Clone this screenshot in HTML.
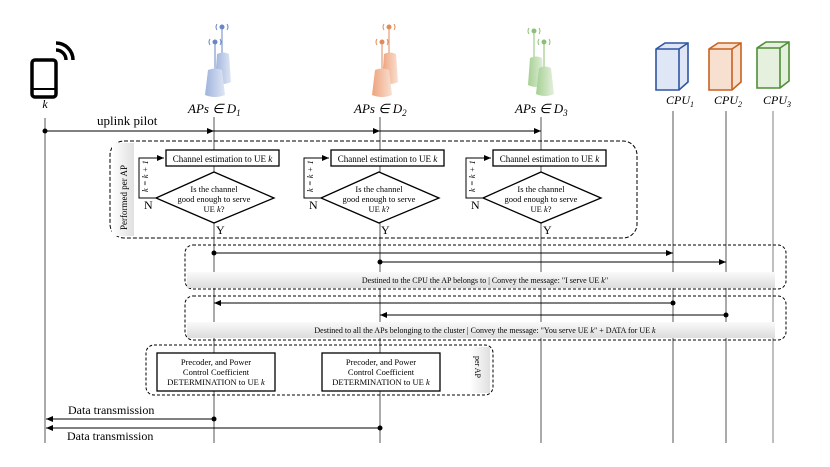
<!DOCTYPE html>
<html><head><meta charset="utf-8"><style>
body{margin:0;background:#fff}
svg{display:block}
text{font-family:"Liberation Serif",serif}
</style></head><body>
<svg width="830" height="467" viewBox="0 0 830 467" xmlns="http://www.w3.org/2000/svg">
<defs>
<linearGradient id="gb" x1="0" x2="1"><stop offset="0" stop-color="#9fb3dc"/><stop offset="1" stop-color="#dfe6f5"/></linearGradient>
<linearGradient id="go" x1="0" x2="1"><stop offset="0" stop-color="#eea37c"/><stop offset="1" stop-color="#f9e0d2"/></linearGradient>
<linearGradient id="gg" x1="0" x2="1"><stop offset="0" stop-color="#a6cf93"/><stop offset="1" stop-color="#e3f0dc"/></linearGradient>
<linearGradient id="band" x1="0" y1="0" x2="0" y2="1"><stop offset="0" stop-color="#fafafa"/><stop offset="1" stop-color="#dcdcdc"/></linearGradient>
<linearGradient id="strip" x1="0" x2="1"><stop offset="0" stop-color="#fff"/><stop offset="1" stop-color="#e0e0e0"/></linearGradient>
<marker id="ah" markerWidth="8" markerHeight="8" refX="7" refY="4" orient="auto" markerUnits="userSpaceOnUse"><path d="M0,1 L7,4 L0,7z" fill="#000"/></marker>
</defs>

<!-- phone -->
<rect x="32" y="60" width="24" height="37" rx="3" fill="none" stroke="#000" stroke-width="3.5"/>
<line x1="33" y1="89" x2="55" y2="89" stroke="#000" stroke-width="2"/>
<path d="M56,50 A10,10 0 0 1 66,60" fill="none" stroke="#000" stroke-width="3.5"/>
<path d="M56,43 A17,17 0 0 1 73,60" fill="none" stroke="#000" stroke-width="3.5"/>
<text x="45" y="108" font-size="12" font-style="italic" text-anchor="middle">k</text>

<!-- APs -->
<g fill="url(#gb)" stroke="#6a86c4">
<line x1="222" y1="28" x2="222" y2="53"/><line x1="215" y1="43" x2="215" y2="69"/>
<circle cx="222" cy="27" r="2" fill="#6a86c4"/><circle cx="215" cy="42" r="2" fill="#6a86c4"/>
<path d="M217,24 q-2,3 0,6 M227,24 q2,3 0,6 M210,39 q-2,3 0,6 M220,39 q2,3 0,6" fill="none"/>
<path d="M217,54 Q223,51 229,54 L231,82 Q223,86 215,82z" stroke="none"/>
<path d="M208,70 Q215,67 222,70 L225,95 Q215,99 205,95z" stroke="none"/>
</g>
<g fill="url(#go)" stroke="#e08a5a">
<line x1="389" y1="28" x2="389" y2="53"/><line x1="382" y1="43" x2="382" y2="69"/>
<circle cx="389" cy="27" r="2" fill="#e08a5a"/><circle cx="382" cy="42" r="2" fill="#e08a5a"/>
<path d="M384,24 q-2,3 0,6 M394,24 q2,3 0,6 M377,39 q-2,3 0,6 M387,39 q2,3 0,6" fill="none"/>
<path d="M384,54 Q390,51 396,54 L398,82 Q390,86 382,82z" stroke="none"/>
<path d="M375,70 Q382,67 389,70 L392,95 Q382,99 372,95z" stroke="none"/>
</g>
<g fill="url(#gg)" stroke="#8cc077">
<line x1="534" y1="32" x2="534" y2="57"/><line x1="544" y1="43" x2="544" y2="67"/>
<circle cx="534" cy="31" r="2" fill="#8cc077"/><circle cx="544" cy="42" r="2" fill="#8cc077"/>
<path d="M529,28 q-2,3 0,6 M539,28 q2,3 0,6 M539,39 q-2,3 0,6 M549,39 q2,3 0,6" fill="none"/>
<path d="M530,58 Q536,55 542,58 L544,85 Q536,89 528,85z" stroke="none"/>
<path d="M539,68 Q545,65 551,68 L554,94 Q545,98 536,94z" stroke="none"/>
</g>
<g font-size="13" font-style="italic">
<text x="188" y="113">APs  ∈ D<tspan font-size="9" dy="3">1</tspan></text>
<text x="354" y="113">APs  ∈ D<tspan font-size="9" dy="3">2</tspan></text>
<text x="515" y="113">APs  ∈ D<tspan font-size="9" dy="3">3</tspan></text>
</g>

<!-- CPUs -->
<g stroke-width="1.6">
<path d="M656,49 L665,43 L688,43 L688,82 L679,90 L656,90z" fill="#dfe6f5" stroke="#2f55a4"/>
<path d="M656,49 L679,49 L688,43 M679,49 L679,90" fill="none" stroke="#2f55a4"/>
<path d="M709,49 L718,43 L741,43 L741,82 L732,90 L709,90z" fill="#f8e0d0" stroke="#c8601e"/>
<path d="M709,49 L732,49 L741,43 M732,49 L732,90" fill="none" stroke="#c8601e"/>
<path d="M757,48 L766,42 L789,42 L789,81 L780,88 L757,88z" fill="#e5f0de" stroke="#4e8e35"/>
<path d="M757,48 L780,48 L789,42 M780,48 L780,88" fill="none" stroke="#4e8e35"/>
</g>
<g font-size="12" font-style="italic">
<text x="666" y="104">CPU<tspan font-size="8" dy="3">1</tspan></text>
<text x="714" y="104">CPU<tspan font-size="8" dy="3">2</tspan></text>
<text x="763" y="104">CPU<tspan font-size="8" dy="3">3</tspan></text>
</g>

<!-- lifelines -->
<g stroke="#555" stroke-width="1">
<line x1="45" y1="118" x2="45" y2="443"/>
<line x1="214" y1="117" x2="214" y2="443"/>
<line x1="380" y1="117" x2="380" y2="443"/>
<line x1="541" y1="117" x2="541" y2="443"/>
<line x1="673" y1="111" x2="673" y2="443"/>
<line x1="726" y1="111" x2="726" y2="443"/>
<line x1="773" y1="111" x2="773" y2="443" stroke="#aaa" stroke-width="1.5"/>
</g>

<!-- uplink pilot -->
<text x="97" y="125" font-size="13">uplink pilot</text>
<circle cx="45" cy="131" r="2.5"/>
<line x1="45" y1="131" x2="541" y2="131" stroke="#000" marker-end="url(#ah)"/>
<path d="M207,128 L214,131 L207,134z M373,128 L380,131 L373,134z"/>

<!-- box 1 -->
<rect x="110" y="141" width="527" height="97" rx="14" fill="none" stroke="#000" stroke-dasharray="4,2"/>
<rect x="112" y="143" width="22" height="93" fill="url(#strip)"/>
<text transform="translate(127,230) rotate(-90)" font-size="9">Performed per AP</text>

<g id="flow">
<rect x="166" y="150" width="113" height="16" fill="#fff" stroke="#000" stroke-width="1.3"/>
<text x="222.5" y="162" font-size="9" text-anchor="middle">Channel estimation to UE <tspan font-style="italic">k</tspan></text>
<path d="M214,172 L274,198 L214,223 L156,198z" fill="#fff" stroke="#000" stroke-width="1.3"/>
<text x="214" y="192" font-size="8.5" text-anchor="middle">Is the channel</text>
<text x="214" y="202" font-size="8.5" text-anchor="middle">good enough to serve</text>
<text x="214" y="212" font-size="8.5" text-anchor="middle">UE <tspan font-style="italic">k</tspan>?</text>
<polyline points="156,198 139,198 139,158 164,158" fill="none" stroke="#000" marker-end="url(#ah)"/>
<text transform="translate(148,192) rotate(-90)" font-size="8.5" font-style="italic">k = k + 1</text>
<text x="144" y="209" font-size="12" font-family="Liberation Sans">N</text>
<text x="216" y="234" font-size="12" font-family="Liberation Sans">Y</text>
</g>
<use href="#flow" x="165"/>
<use href="#flow" x="327"/>

<!-- box 2 -->
<rect x="185" y="245" width="601" height="44" rx="8" fill="none" stroke="#000" stroke-dasharray="3,2"/>
<rect x="187" y="272" width="588" height="16" fill="url(#band)"/>
<text x="485" y="283" font-size="8" text-anchor="middle">Destined to the CPU the AP belongs to | Convey the message: "I serve UE <tspan font-style="italic">k</tspan>"</text>
<circle cx="214" cy="253" r="2.5"/><line x1="214" y1="253" x2="673" y2="253" stroke="#000" marker-end="url(#ah)"/>
<circle cx="380" cy="262" r="2.5"/><line x1="380" y1="262" x2="726" y2="262" stroke="#000" marker-end="url(#ah)"/>

<!-- box 3 -->
<rect x="185" y="296" width="601" height="44" rx="8" fill="none" stroke="#000" stroke-dasharray="3,2"/>
<rect x="187" y="322" width="588" height="16" fill="url(#band)"/>
<text x="485" y="333" font-size="8" text-anchor="middle">Destined to all the APs belonging to the cluster | Convey the message: "You serve UE <tspan font-style="italic">k</tspan>" + DATA for UE <tspan font-style="italic">k</tspan></text>
<circle cx="673" cy="303" r="2.5"/><line x1="673" y1="303" x2="214" y2="303" stroke="#000" marker-end="url(#ah)"/>
<circle cx="726" cy="315" r="2.5"/><line x1="726" y1="315" x2="380" y2="315" stroke="#000" marker-end="url(#ah)"/>

<!-- box 4 -->
<rect x="146" y="345" width="347" height="50" rx="8" fill="none" stroke="#000" stroke-dasharray="3,2"/>
<rect x="470" y="347" width="20" height="46" fill="url(#strip)"/>
<text transform="translate(475,356) rotate(90)" font-size="8">per AP</text>
<g font-size="8.5" text-anchor="middle">
<rect x="157" y="353" width="118" height="38" fill="#fff" stroke="#000" stroke-width="1.3"/>
<text x="216" y="365">Precoder, and Power</text><text x="216" y="375">Control Coefficient</text><text x="216" y="385">DETERMINATION to UE <tspan font-style="italic">k</tspan></text>
<rect x="322" y="353" width="118" height="38" fill="#fff" stroke="#000" stroke-width="1.3"/>
<text x="381" y="365">Precoder, and Power</text><text x="381" y="375">Control Coefficient</text><text x="381" y="385">DETERMINATION to UE <tspan font-style="italic">k</tspan></text>
</g>

<!-- data transmission -->
<text x="68" y="414" font-size="12">Data transmission</text>
<circle cx="214" cy="419" r="2.5"/><line x1="214" y1="419" x2="46" y2="419" stroke="#000" marker-end="url(#ah)"/>
<circle cx="380" cy="428" r="2.5"/><line x1="380" y1="428" x2="46" y2="428" stroke="#000" marker-end="url(#ah)"/>
<text x="67" y="440" font-size="12">Data transmission</text>
</svg>
</body></html>
